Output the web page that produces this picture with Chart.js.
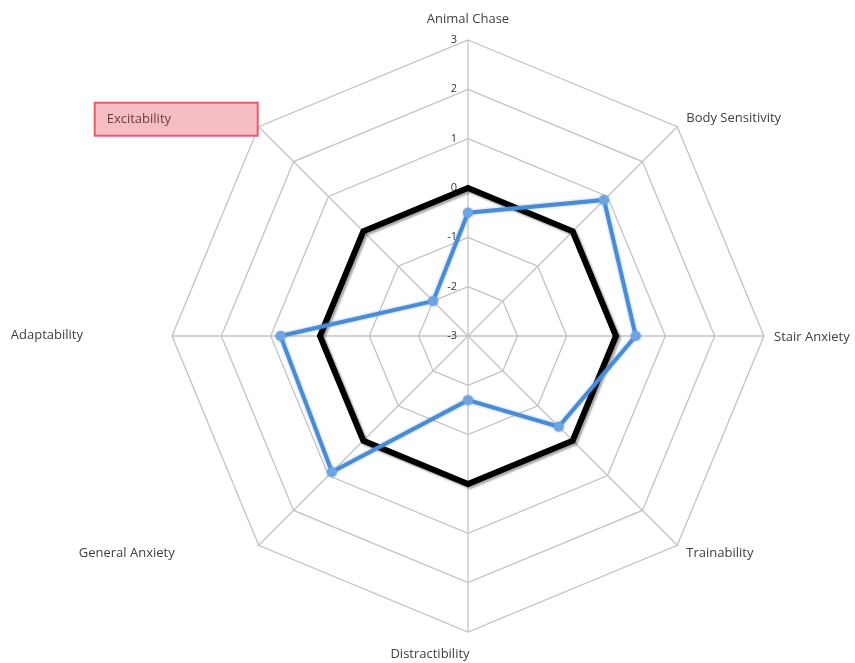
<!DOCTYPE html>
<html>
<head>
<meta charset="utf-8">
<script src="https://cdn.jsdelivr.net/npm/chart.js@4.4.1/dist/chart.umd.min.js"></script>
<style>
  html, body { margin: 0; padding: 0; background: #fff; }
  #wrap { width: 855px; height: 663px; position: relative; }
</style>
</head>
<body>
<div id="wrap"><canvas id="radar"></canvas></div>
<script>
const categories = ['Animal Chase', 'Body Sensitivity', 'Stair Anxiety', 'Trainability',
  'Distractibility', 'General Anxiety', 'Adaptability', 'Excitability'];
const baselineValues = [0, 0, 0, 0, 0, 0, 0, 0];
const dogValues = [-0.5, 0.9, 0.4, -0.4, -1.7, 0.9, 0.8, -2.0];
const tickValues = [-3, -2, -1, 0, 1, 2, 3];
const highlightedLabel = 'Excitability';

const labelFont = '13px "Open Sans", sans-serif';
const tickFont = '11px "Open Sans", sans-serif';

// where each axis label sits relative to its outer vertex (Excel puts them a bit oddly)
const labelOffsets = [
  { dx: 0, dy: -21, align: 'center' },
  { dx: 9, dy: -8, align: 'left' },
  { dx: 10, dy: 1, align: 'left' },
  { dx: 9, dy: 8, align: 'left' },
  { dx: -38, dy: 22, align: 'center' },
  { dx: -84, dy: 8, align: 'right' },
  { dx: -89, dy: -1, align: 'right' },
  { dx: -152, dy: -7, align: 'left' }
];

const labelsPlugin = {
  id: 'excelLabels',
  beforeDatasetsDraw(chart) {
    const scale = chart.scales.r;
    const ctx = chart.ctx;
    ctx.save();

    // tick labels, just left of the vertical axis
    ctx.font = tickFont;
    ctx.fillStyle = '#333';
    ctx.textAlign = 'right';
    ctx.textBaseline = 'middle';
    tickValues.forEach((v) => {
      const d = scale.getDistanceFromCenterForValue(v);
      ctx.fillText(String(v), scale.xCenter - 11, scale.yCenter - d);
    });

    // axis labels
    ctx.font = labelFont;
    categories.forEach((name, i) => {
      const p = scale.getPointPosition(i, scale.drawingArea);
      const off = labelOffsets[i];
      if (name === highlightedLabel) {
        ctx.fillStyle = '#f6bec4';
        ctx.strokeStyle = '#e85a6c';
        ctx.lineWidth = 2;
        ctx.fillRect(p.x - 164, p.y - 24, 163, 33);
        ctx.strokeRect(p.x - 164, p.y - 24, 163, 33);
        ctx.fillStyle = '#6e3a3c';
      } else {
        ctx.fillStyle = '#404040';
      }
      ctx.textAlign = off.align;
      ctx.textBaseline = 'middle';
      ctx.fillText(name, p.x + off.dx, p.y + off.dy);
    });
    ctx.restore();
  },
  beforeDatasetDraw(chart, args) {
    const ctx = chart.ctx;
    ctx.save();
    if (args.index === 0) {
      ctx.shadowColor = 'rgba(0,0,0,0.35)';
      ctx.shadowOffsetX = 2;
      ctx.shadowOffsetY = 2;
      ctx.shadowBlur = 2;
    } else {
      ctx.shadowColor = 'rgba(90,150,220,0.6)';
      ctx.shadowBlur = 3;
    }
  },
  afterDatasetDraw(chart) {
    chart.ctx.restore();
  }
};

new Chart(document.getElementById('radar'), {
  type: 'radar',
  data: {
    labels: categories,
    datasets: [
      {
        label: 'Baseline',
        data: baselineValues,
        borderColor: '#000',
        borderWidth: 6,
        backgroundColor: 'transparent',
        fill: false,
        pointRadius: 0,
        borderJoinStyle: 'miter',
        order: 2
      },
      {
        label: 'Dog',
        data: dogValues,
        borderColor: '#4a8bd6',
        borderWidth: 4,
        backgroundColor: 'transparent',
        fill: false,
        pointRadius: 5,
        pointBackgroundColor: '#6ea4e2',
        pointBorderColor: '#6ea4e2',
        pointBorderWidth: 0,
        order: 1
      }
    ]
  },
  options: {
    responsive: true,
    maintainAspectRatio: false,
    animation: false,
    layout: { padding: { top: 40, bottom: 31, left: 172, right: 91 } },
    plugins: {
      legend: { display: false },
      tooltip: { enabled: false }
    },
    scales: {
      r: {
        min: -3,
        max: 3,
        ticks: { stepSize: 1, display: false, showLabelBackdrop: false },
        grid: { color: '#c3c3c3', lineWidth: 1.3 },
        angleLines: { color: '#c3c3c3', lineWidth: 1.3 },
        pointLabels: { display: false }
      }
    }
  },
  plugins: [labelsPlugin]
});
</script>
</body>
</html>
